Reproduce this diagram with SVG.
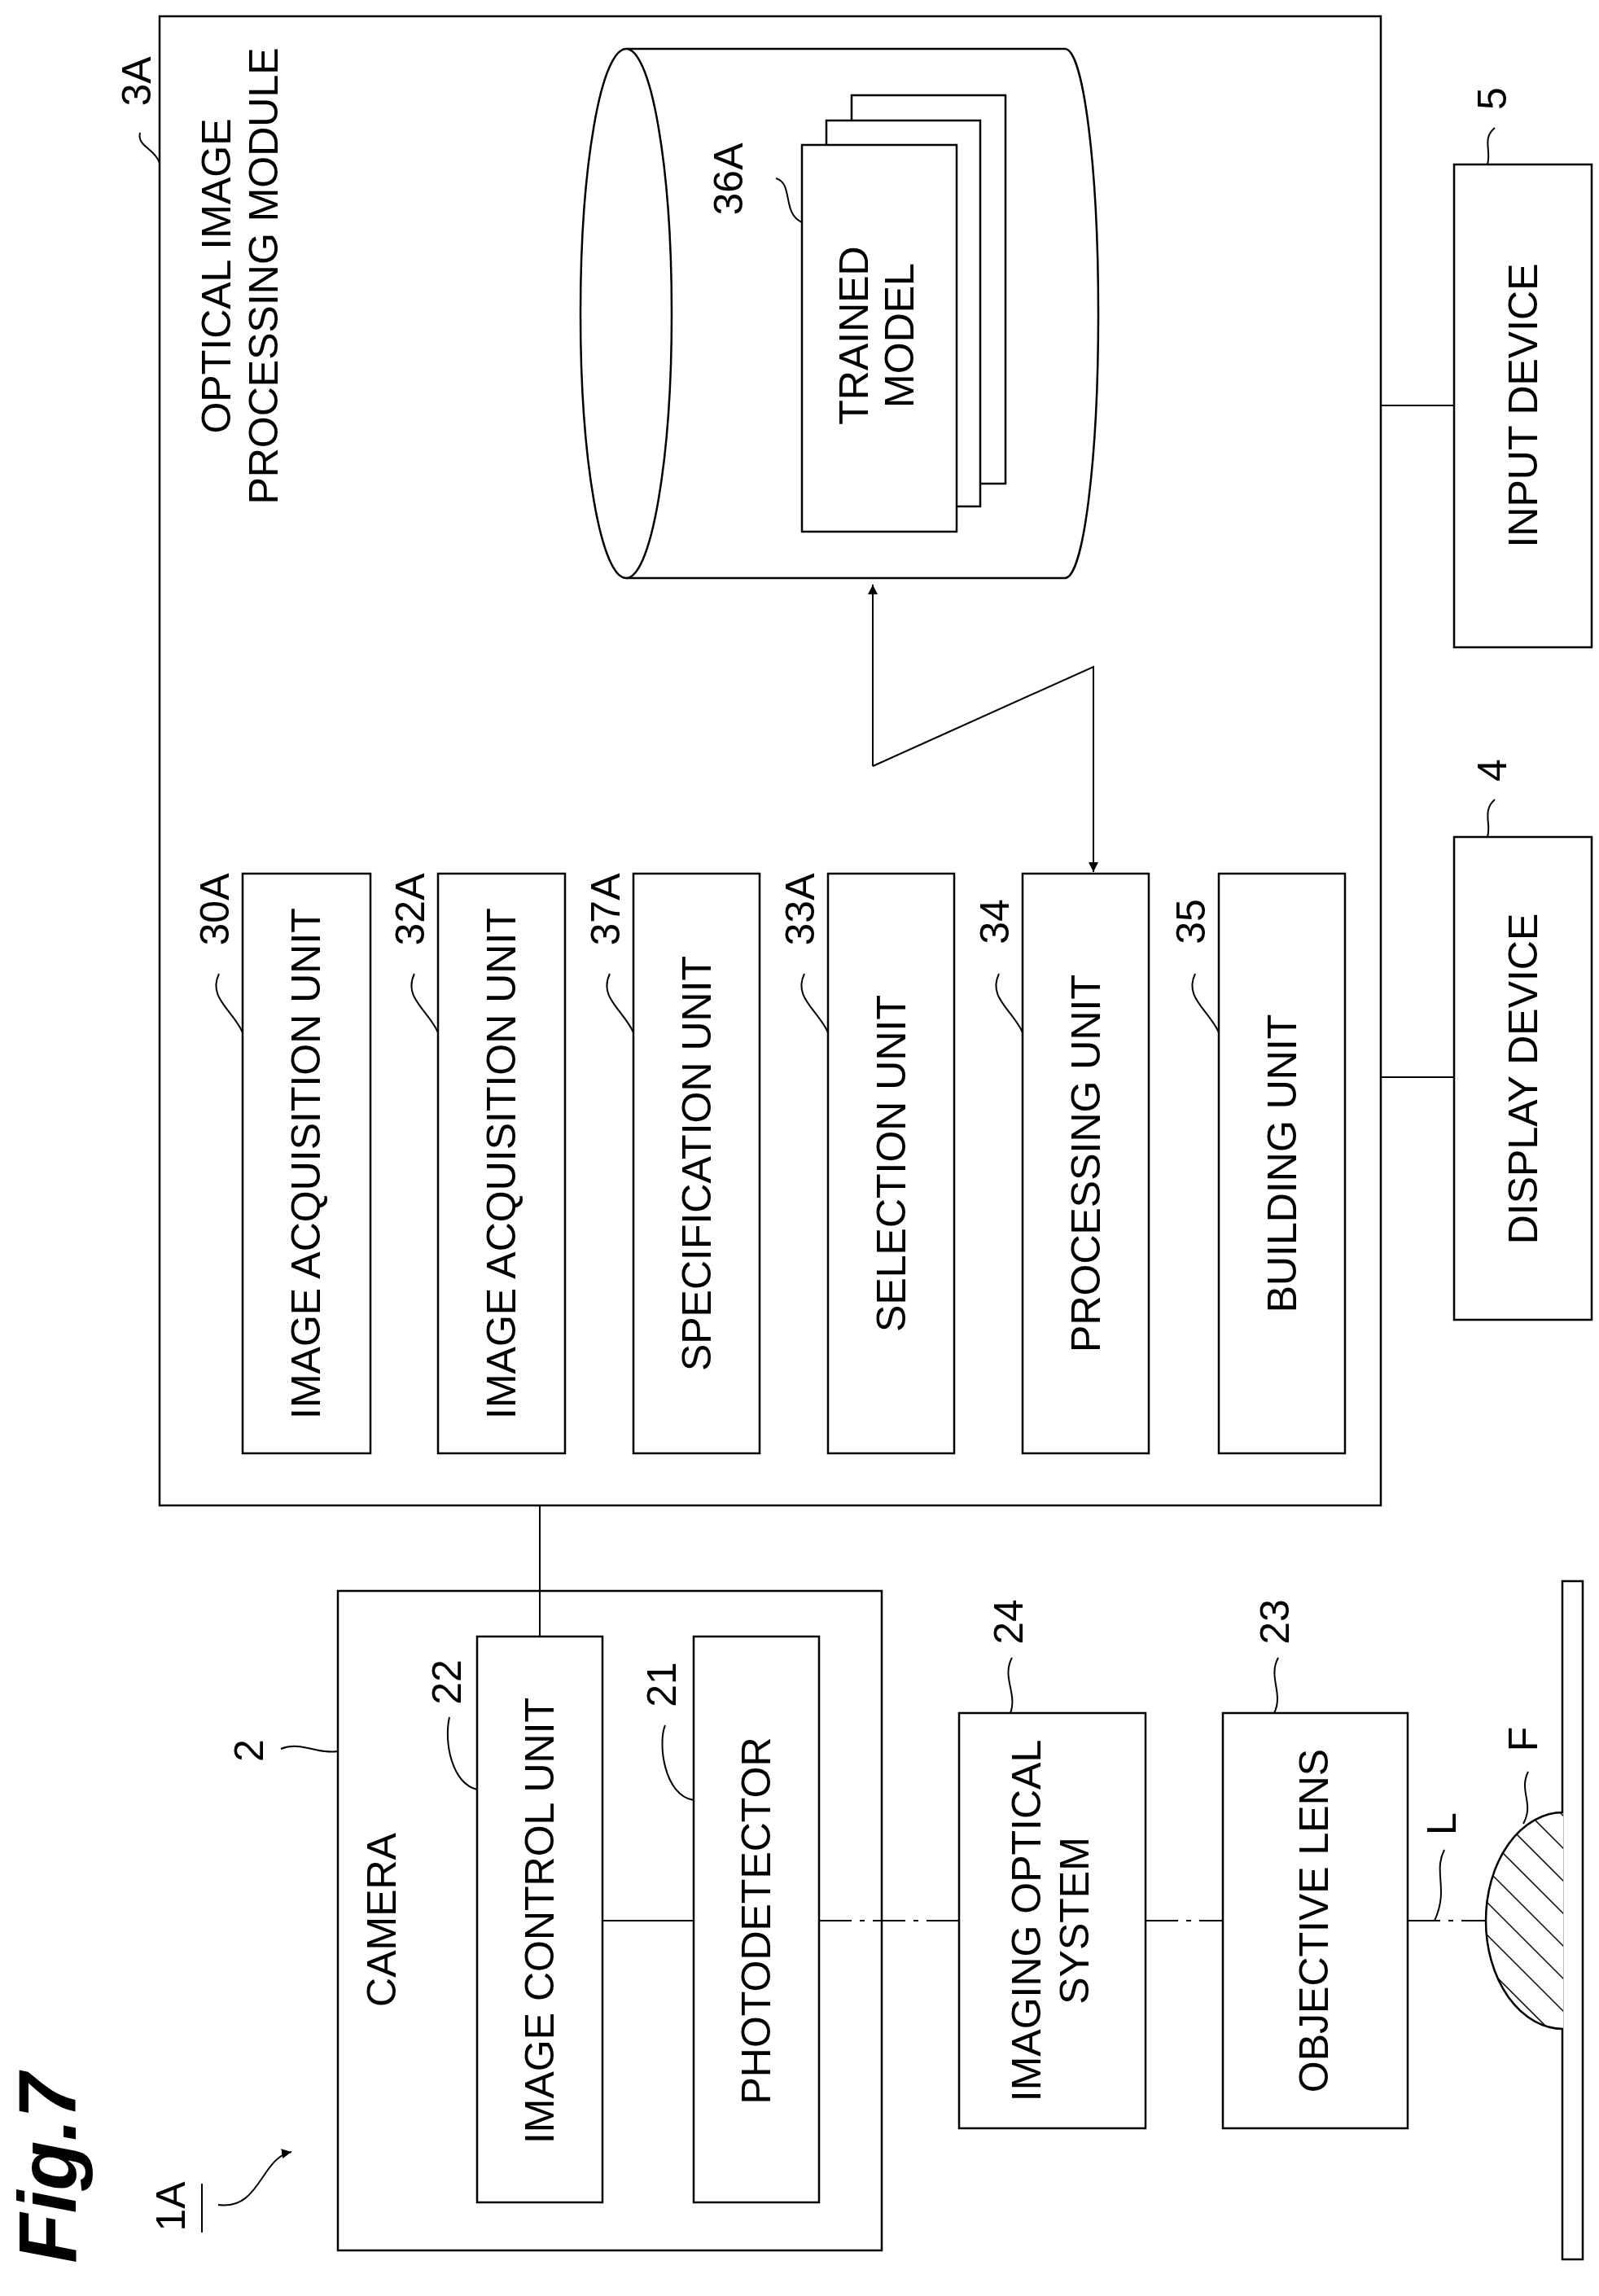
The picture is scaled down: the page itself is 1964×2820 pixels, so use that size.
<svg xmlns="http://www.w3.org/2000/svg" width="1964" height="2820" viewBox="0 0 1964 2820">
<style>
.b{fill:#fff;stroke:#000;stroke-width:2.5}
.l{fill:none;stroke:#000;stroke-width:2}
.t{font-family:"Liberation Sans",Arial,sans-serif;font-size:50px;text-anchor:middle;dominant-baseline:central;fill:#000}
.n{font-family:"Liberation Sans",Arial,sans-serif;font-size:50px;text-anchor:middle;dominant-baseline:central;fill:#000}
</style>
<defs>
<marker id="ah" markerWidth="12" markerHeight="12" refX="10" refY="5" orient="auto" markerUnits="userSpaceOnUse" viewBox="0 0 10 10"><path d="M0,0 L10,5 L0,10 z" fill="#000"/></marker>
<clipPath id="fc"><path d="M1920,2226 A95,133 0 0 0 1920,2492 Z"/></clipPath>
</defs>
<rect width="1964" height="2820" fill="#fff"/>
<text transform="translate(58,2663) rotate(-90)" style="font-family:'Liberation Sans',Arial,sans-serif;font-weight:bold;font-style:italic;font-size:100px;text-anchor:middle;dominant-baseline:central">Fig.7</text>
<g id="ref1A"><text class="n" transform="translate(210,2710) rotate(-90)">1A</text><line x1="248" y1="2682" x2="248" y2="2742" class="l"/><path d="M268,2708 C320,2715 320,2650 358,2643" class="l" marker-end="url(#ah)"/></g>

<g id="module3A">
<rect class="b" x="196" y="20" width="1500" height="1829"/>
<text class="t" transform="translate(266,339) rotate(-90)">OPTICAL IMAGE</text>
<text class="t" transform="translate(324,339) rotate(-90)">PROCESSING MODULE</text>
<text class="n" transform="translate(168,100) rotate(-90)">3A</text>
<path d="M172,163 C168,180 190,182 196,200" class="l"/>
</g>
<g id="storage">
<path class="b" d="M769,60 L1308,60 A41,325 0 0 1 1308,710 L769,710"/>
<ellipse class="b" cx="769" cy="385" rx="56" ry="325"/>
</g>
<g id="model36A">
<rect class="b" x="1046" y="117" width="189" height="477"/>
<rect class="b" x="1015" y="148" width="189" height="474"/>
<rect class="b" x="985" y="178" width="190" height="475"/>
<text class="t" transform="translate(1049,412) rotate(-90)">TRAINED</text>
<text class="t" transform="translate(1105,412) rotate(-90)">MODEL</text>
<text class="n" transform="translate(895,220) rotate(-90)">36A</text>
<path d="M953,219 C975,225 960,262 985,273" class="l"/>
</g>
<g id="u30A"><rect class="b" x="298" y="1073" width="157" height="712"/><text class="t" transform="translate(376,1429) rotate(-90)">IMAGE ACQUISITION UNIT</text><text class="n" transform="translate(264,1117) rotate(-90)">30A</text><path d="M269,1196 C255,1225 285,1240 298,1268" class="l"/></g>
<g id="u32A"><rect class="b" x="538" y="1073" width="156" height="712"/><text class="t" transform="translate(616,1429) rotate(-90)">IMAGE ACQUISITION UNIT</text><text class="n" transform="translate(504,1117) rotate(-90)">32A</text><path d="M509,1196 C495,1225 525,1240 538,1268" class="l"/></g>
<g id="u37A"><rect class="b" x="778" y="1073" width="155" height="712"/><text class="t" transform="translate(856,1429) rotate(-90)">SPECIFICATION UNIT</text><text class="n" transform="translate(744,1117) rotate(-90)">37A</text><path d="M749,1196 C735,1225 765,1240 778,1268" class="l"/></g>
<g id="u33A"><rect class="b" x="1017" y="1073" width="155" height="712"/><text class="t" transform="translate(1095,1429) rotate(-90)">SELECTION UNIT</text><text class="n" transform="translate(983,1117) rotate(-90)">33A</text><path d="M988,1196 C974,1225 1004,1240 1017,1268" class="l"/></g>
<g id="u34"><rect class="b" x="1256" y="1073" width="155" height="712"/><text class="t" transform="translate(1334,1429) rotate(-90)">PROCESSING UNIT</text><text class="n" transform="translate(1222,1132) rotate(-90)">34</text><path d="M1227,1196 C1213,1225 1243,1240 1256,1268" class="l"/></g>
<g id="u35"><rect class="b" x="1497" y="1073" width="155" height="712"/><text class="t" transform="translate(1575,1429) rotate(-90)">BUILDING UNIT</text><text class="n" transform="translate(1463,1132) rotate(-90)">35</text><path d="M1468,1196 C1454,1225 1484,1240 1497,1268" class="l"/></g>

<g id="input5"><rect class="b" x="1786" y="202" width="169" height="593"/><text class="t" transform="translate(1871,498) rotate(-90)">INPUT DEVICE</text><text class="n" transform="translate(1833,121) rotate(-90)">5</text><path d="M1836,157 C1820,170 1832,185 1827,202" class="l"/></g>
<g id="display4"><rect class="b" x="1786" y="1028" width="169" height="593"/><text class="t" transform="translate(1871,1325) rotate(-90)">DISPLAY DEVICE</text><text class="n" transform="translate(1833,946) rotate(-90)">4</text><path d="M1836,982 C1820,996 1832,1012 1827,1028" class="l"/></g>

<g id="camera2"><rect class="b" x="415" y="1954" width="668" height="810"/><text class="t" transform="translate(469,2358) rotate(-90)">CAMERA</text><text class="n" transform="translate(306,2150) rotate(-90)">2</text><path d="M345,2148 C370,2138 390,2155 415,2151" class="l"/></g>
<g id="icu22"><rect class="b" x="586" y="2010" width="154" height="695"/><text class="t" transform="translate(663,2359) rotate(-90)">IMAGE CONTROL UNIT</text><text class="n" transform="translate(549,2066) rotate(-90)">22</text><path d="M552,2109 C545,2140 555,2190 586,2198" class="l"/></g>
<g id="pd21"><rect class="b" x="852" y="2010" width="154" height="695"/><text class="t" transform="translate(929,2359) rotate(-90)">PHOTODETECTOR</text><text class="n" transform="translate(813,2069) rotate(-90)">21</text><path d="M817,2119 C808,2140 815,2205 852,2211" class="l"/></g>
<g id="ios24"><rect class="b" x="1178" y="2104" width="229" height="510"/><text class="t" transform="translate(1261,2359) rotate(-90)">IMAGING OPTICAL</text><text class="t" transform="translate(1320,2359) rotate(-90)">SYSTEM</text><text class="n" transform="translate(1239,1992) rotate(-90)">24</text><path d="M1243,2036 C1230,2060 1250,2080 1241,2104" class="l"/></g>
<g id="obj23"><rect class="b" x="1502" y="2104" width="227" height="510"/><text class="t" transform="translate(1614,2359) rotate(-90)">OBJECTIVE LENS</text><text class="n" transform="translate(1566,1992) rotate(-90)">23</text><path d="M1570,2036 C1557,2060 1577,2080 1565,2104" class="l"/></g>
<g id="sampleF">
<rect class="b" x="1919" y="1942" width="25" height="833"/>
<path d="M1920,2226 A95,133 0 0 0 1920,2492" class="b"/>
<g clip-path="url(#fc)" class="l" style="stroke-width:1.5">
<path d="M1800,2190 L1940,2330 M1800,2230 L1940,2370 M1800,2270 L1940,2410 M1800,2310 L1940,2450 M1800,2350 L1940,2490 M1800,2390 L1940,2530 M1800,2430 L1940,2570 M1800,2150 L1940,2290 M1800,2110 L1940,2250"/>
</g>
<text class="n" transform="translate(1871,2136) rotate(-90)">F</text>
<path d="M1877,2176 C1865,2200 1885,2215 1871,2240" class="l"/>
<text class="n" transform="translate(1771,2240) rotate(-90)">L</text>
<path d="M1774,2272 C1760,2300 1780,2320 1762,2359" class="l"/>
</g>

<g id="connectors">
<line x1="663" y1="1849" x2="663" y2="2010" class="l"/>
<line x1="1696" y1="498" x2="1786" y2="498" class="l"/>
<line x1="1696" y1="1323" x2="1786" y2="1323" class="l"/>
<line x1="740" y1="2359" x2="852" y2="2359" class="l"/>
<g class="l" style="stroke-dasharray:40 10 6 10">
<line x1="1006" y1="2359" x2="1178" y2="2359"/>
<line x1="1407" y1="2359" x2="1502" y2="2359"/>
<line x1="1729" y1="2359" x2="1825" y2="2359"/>
</g>
<path d="M1072,941 L1072,718" class="l" marker-end="url(#ah)"/>
<path d="M1072,941 L1343,819 L1343,1071" class="l" marker-end="url(#ah)"/>
</g>
</svg>
